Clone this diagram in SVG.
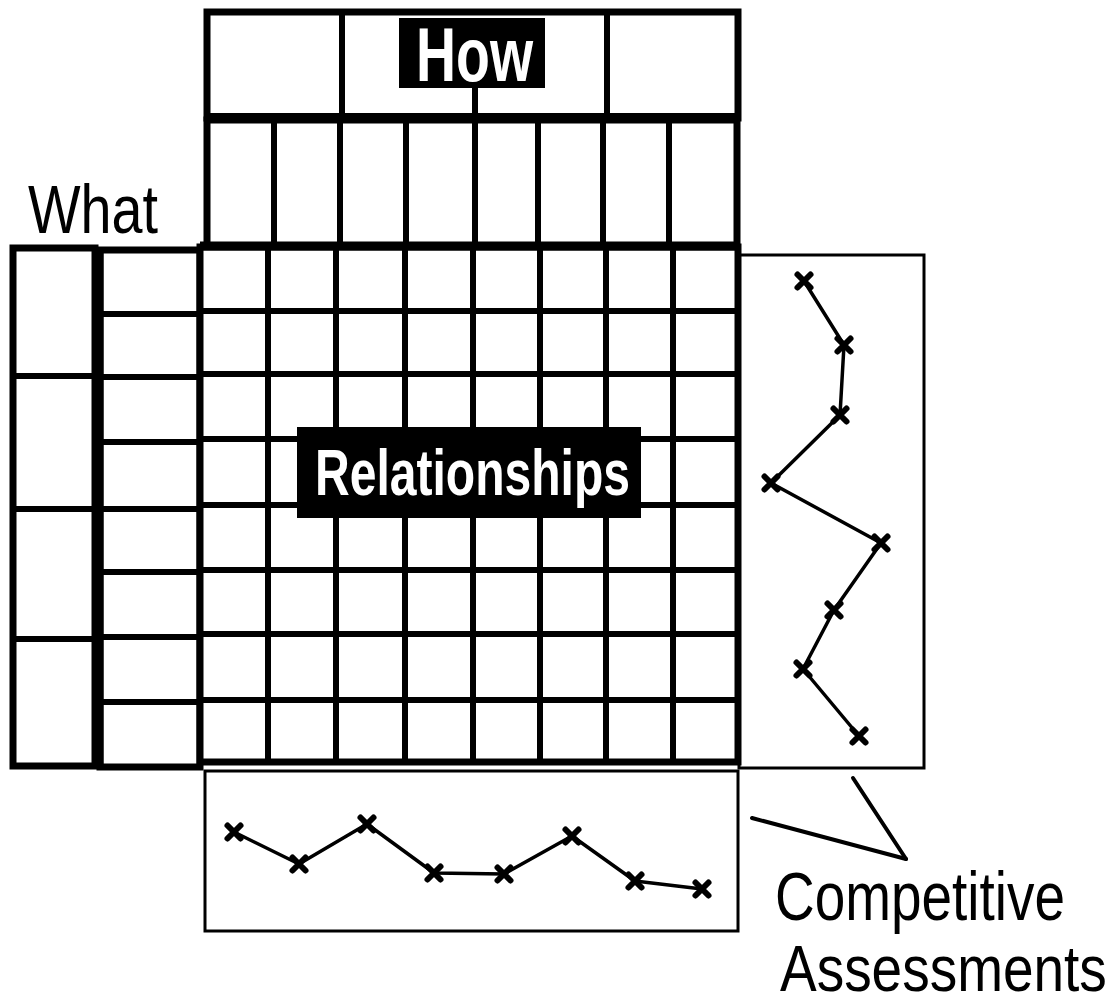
<svg xmlns="http://www.w3.org/2000/svg" width="1117" height="1006" viewBox="0 0 1117 1006">
<style>
.box{fill:#fff;stroke:#000;stroke-width:7}
.ln{stroke:#000;stroke-width:6;fill:none}
.thin{fill:none;stroke:#000;stroke-width:3}
.curve{fill:none;stroke:#000;stroke-width:3.5;stroke-linejoin:round}
.lab{font-family:"Liberation Sans",Arial,sans-serif;fill:#000}
.inv{font-family:"Liberation Sans",Arial,sans-serif;font-weight:bold;fill:#fff}
.ptr{stroke:#000;stroke-width:4;stroke-linecap:round}
</style>
<defs>
<g id="x"><path d="M-6.5,-6.5 L6.5,6.5 M-6.5,6.5 L6.5,-6.5" stroke="#000" stroke-width="6" stroke-linecap="round"/></g>
</defs>
<rect width="1117" height="1006" fill="#fff"/>

<g id="how-header">
<rect class="box" x="207" y="12" width="531" height="106"/>
<line class="ln" x1="342" y1="12" x2="342" y2="118"/>
<line class="ln" x1="607" y1="12" x2="607" y2="118"/>
<line class="ln" x1="475" y1="86" x2="475" y2="118"/>
<rect x="399" y="18" width="146" height="70" fill="#000"/>
<text class="inv" x="416" y="81" font-size="76" textLength="117" lengthAdjust="spacingAndGlyphs">How</text>
</g>

<g id="how-columns">
<rect class="box" x="207" y="120" width="530" height="126"/>
<line x1="205" y1="118" x2="740" y2="118" stroke="#000" stroke-width="10"/>
<line class="ln" x1="274" y1="120" x2="274" y2="246"/>
<line class="ln" x1="340" y1="120" x2="340" y2="246"/>
<line class="ln" x1="406" y1="120" x2="406" y2="246"/>
<line class="ln" x1="475" y1="120" x2="475" y2="246"/>
<line class="ln" x1="538" y1="120" x2="538" y2="246"/>
<line class="ln" x1="603" y1="120" x2="603" y2="246"/>
<line class="ln" x1="669" y1="120" x2="669" y2="246"/>
</g>

<g id="what-label">
<text class="lab" x="28" y="233" font-size="68" textLength="130" lengthAdjust="spacingAndGlyphs">What</text>
</g>

<g id="what-groups">
<rect class="box" x="13" y="248" width="82" height="518"/>
<line class="ln" x1="13" y1="376" x2="95" y2="376"/>
<line class="ln" x1="13" y1="509" x2="95" y2="509"/>
<line class="ln" x1="13" y1="639" x2="95" y2="639"/>
</g>

<g id="what-items">
<rect class="box" x="100" y="250" width="100" height="517"/>
<line x1="99" y1="250" x2="99" y2="767" stroke="#000" stroke-width="9"/>
<line class="ln" x1="100" y1="314" x2="200" y2="314"/>
<line class="ln" x1="100" y1="377" x2="200" y2="377"/>
<line class="ln" x1="100" y1="442" x2="200" y2="442"/>
<line class="ln" x1="100" y1="509" x2="200" y2="509"/>
<line class="ln" x1="100" y1="572" x2="200" y2="572"/>
<line class="ln" x1="100" y1="637" x2="200" y2="637"/>
<line class="ln" x1="100" y1="702" x2="200" y2="702"/>
</g>

<g id="relationships">
<rect class="box" x="200" y="247" width="538" height="515"/>
<line x1="200" y1="246" x2="740" y2="246" stroke="#000" stroke-width="9"/>
<line class="ln" x1="268" y1="247" x2="268" y2="762"/>
<line class="ln" x1="336" y1="247" x2="336" y2="762"/>
<line class="ln" x1="405" y1="247" x2="405" y2="762"/>
<line class="ln" x1="473" y1="247" x2="473" y2="762"/>
<line class="ln" x1="540" y1="247" x2="540" y2="762"/>
<line class="ln" x1="606" y1="247" x2="606" y2="762"/>
<line class="ln" x1="673" y1="247" x2="673" y2="762"/>
<line class="ln" x1="200" y1="311" x2="738" y2="311"/>
<line class="ln" x1="200" y1="374" x2="738" y2="374"/>
<line class="ln" x1="200" y1="439" x2="738" y2="439"/>
<line class="ln" x1="200" y1="505" x2="738" y2="505"/>
<line class="ln" x1="200" y1="570" x2="738" y2="570"/>
<line class="ln" x1="200" y1="634" x2="738" y2="634"/>
<line class="ln" x1="200" y1="700" x2="738" y2="700"/>
<rect x="297" y="427" width="344" height="91" fill="#000"/>
<text class="inv" x="315" y="495" font-size="64" textLength="315" lengthAdjust="spacingAndGlyphs">Relationships</text>
</g>

<g id="right-assessment">
<rect class="thin" x="739" y="255" width="185" height="513"/>
<polyline class="curve" points="804,281 844,345 840,415 771,483 881,543 834,610 803,669 859,736"/>
<use href="#x" x="804" y="281"/>
<use href="#x" x="844" y="345"/>
<use href="#x" x="840" y="415"/>
<use href="#x" x="771" y="483"/>
<use href="#x" x="881" y="543"/>
<use href="#x" x="834" y="610"/>
<use href="#x" x="803" y="669"/>
<use href="#x" x="859" y="736"/>
</g>

<g id="bottom-assessment">
<rect class="thin" x="205" y="771" width="533" height="160"/>
<polyline class="curve" points="234,832 299,864 367,824 434,873 504,874 572,836 635,881 702,889"/>
<use href="#x" x="234" y="832"/>
<use href="#x" x="299" y="864"/>
<use href="#x" x="367" y="824"/>
<use href="#x" x="434" y="873"/>
<use href="#x" x="504" y="874"/>
<use href="#x" x="572" y="836"/>
<use href="#x" x="635" y="881"/>
<use href="#x" x="702" y="889"/>
</g>

<g id="competitive-label">
<text class="lab" transform="translate(775,920) scale(0.808,1)" x="0" y="0" font-size="68">Competitive</text>
<text class="lab" transform="translate(780,991) scale(0.859,1)" x="0" y="0" font-size="64">Assessments</text>
</g>

<g id="connectors">
<line class="ptr" x1="752" y1="818" x2="906" y2="859"/>
<line class="ptr" x1="853" y1="778" x2="906" y2="859"/>
</g>
</svg>
